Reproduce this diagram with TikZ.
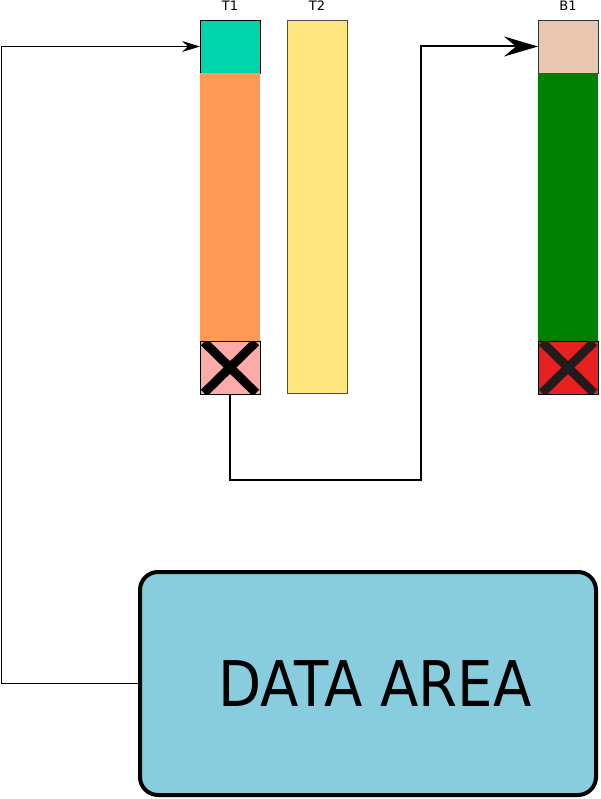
\documentclass[tikz,border=0pt]{standalone}
\usepackage{fontspec}
\setmainfont{DejaVu Sans}
\usetikzlibrary{
  arrows.meta,
  positioning
}
\definecolor{tOne}{HTML}{00D4AA}
\definecolor{tBody}{HTML}{FF9955}
\definecolor{tDead}{HTML}{FFAAAA}
\definecolor{tTwo}{HTML}{FFE680}
\definecolor{bOne}{HTML}{E9C6AF}
\definecolor{bBody}{HTML}{008000}
\definecolor{bDead}{HTML}{E82020}
\definecolor{bCross}{HTML}{241C1C}
\definecolor{dataBg}{HTML}{87CDDE}
\tikzset{
  cell/.style={
    draw, line width=0.9pt, minimum width=60pt, minimum height=53pt,
    inner sep=0pt, outer sep=0pt
  },
  body/.style={cell, draw=none, minimum height=268pt},
  column/.style={cell, draw=black!70, line width=0.6pt, minimum height=373pt},
  tag/.style={font=\fontsize{13}{14}\selectfont, inner sep=0.5pt},
  cross/.style={line width=9pt},
  link/.style={-{Stealth[length=18pt, width=11pt, inset=6pt]}, line width=0.8pt},
  bigLink/.style={-{Stealth[length=34pt, width=20pt, inset=12pt]}, line width=2pt},
  area/.style={
    draw, line width=4pt, rounded corners=18pt, fill=dataBg,
    minimum width=456pt, minimum height=223pt,
    font=\fontsize{63}{70}\selectfont
  }
}

\begin{document}
\begin{tikzpicture}[x=1pt, y=-1pt, node distance=0pt]
  \useasboundingbox (0,0) rectangle (600,799);
  % T1 stack
  \node[cell, fill=tOne, anchor=north west] (t1top) at (200,20) {};
  \node[body, fill=tBody, below=of t1top] (t1body) {};
  \node[cell, fill=tDead, below=of t1body] (t1x) {};
  \begin{scope}
    \clip (t1x.north west) rectangle (t1x.south east);
    \draw[cross] ([shift={(4pt,-1pt)}]t1x.north west) -- ([shift={(-4pt,1pt)}]t1x.south east);
    \draw[cross] ([shift={(-4pt,-1pt)}]t1x.north east) -- ([shift={(4pt,1pt)}]t1x.south west);
  \end{scope}
  \draw[line width=0.9pt] (t1x.north west) rectangle (t1x.south east);
  \node[tag, above=9pt of t1top] (t1lbl) {T1};
  % T2
  \node[column, fill=tTwo, anchor=north west] (t2) at (287,20) {};
  \node[tag, above=9pt of t2] (t2lbl) {T2};
  % B1 stack
  \node[cell, fill=bOne, draw=black!80, line width=0.6pt, anchor=north west] (b1top) at (538,20) {};
  \node[body, fill=bBody, below=of b1top] (b1body) {};
  \node[cell, fill=bDead, below=of b1body] (b1x) {};
  \begin{scope}
    \clip (b1x.north west) rectangle (b1x.south east);
    \draw[cross, bCross] ([shift={(4pt,-1pt)}]b1x.north west) -- ([shift={(-4pt,1pt)}]b1x.south east);
    \draw[cross, bCross] ([shift={(-4pt,-1pt)}]b1x.north east) -- ([shift={(4pt,1pt)}]b1x.south west);
  \end{scope}
  \draw[line width=0.9pt] (b1x.north west) rectangle (b1x.south east);
  \node[tag, above=9pt of b1top] (b1lbl) {B1};
  % data area
  \node[area] (data) at (368,683.5) {\hspace*{14pt}\scalebox{0.89}[1]{DATA AREA}};
  % connectors
  \coordinate (edge) at (1,0);
  \coordinate (turn) at (421,480);
  \draw[link] (data.west) -- (edge |- data.west) |- (t1top.west);
  \draw[bigLink] (t1x.south) |- (turn) |- (b1top.west);
\end{tikzpicture}
\end{document}
